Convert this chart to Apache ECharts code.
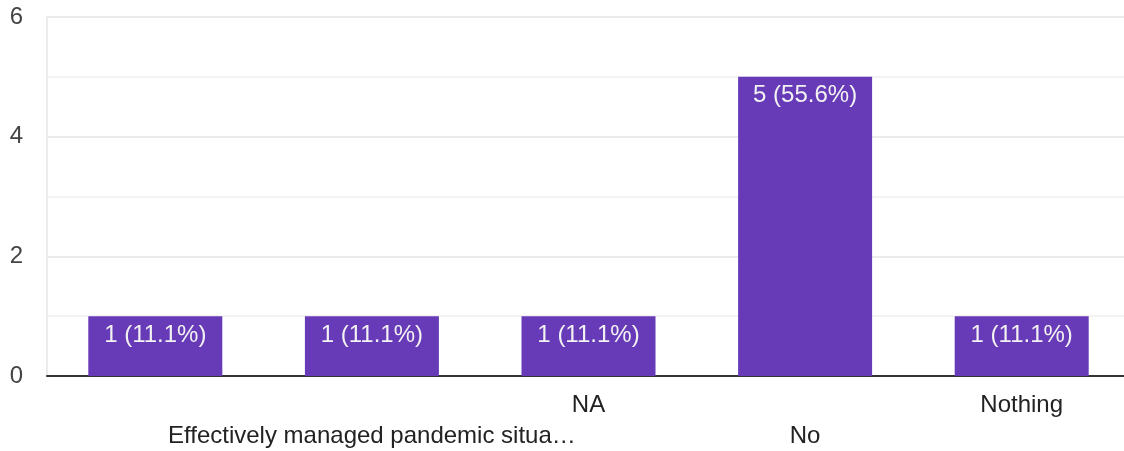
<!DOCTYPE html>
<html>
<head>
<meta charset="utf-8">
<script src="https://cdn.jsdelivr.net/npm/echarts@6/dist/echarts.min.js"></script>
<style>
html,body{margin:0;padding:0;background:#fff;overflow:hidden;}
#chart{width:1136px;height:451px;}
</style>
</head>
<body>
<div id="chart"></div>
<script>
var categories = ["", "Effectively managed pandemic situa\u2026", "NA", "No", "Nothing"];
var counts = [1, 1, 1, 5, 1];
var percents = ["11.1%", "11.1%", "11.1%", "55.6%", "11.1%"];
var yTicks = [0, 2, 4, 6];

var chart = echarts.init(document.getElementById('chart'));
var font = '"Liberation Sans", Arial, sans-serif';
chart.setOption({
  animation: false,
  grid: { left: 47, width: 1083, top: 17, height: 359, containLabel: false, outerBoundsMode: 'none' },
  xAxis: {
    type: 'category',
    data: categories,
    axisLine: { show: true, lineStyle: { color: '#333333', width: 2 } },
    axisTick: { show: false },
    axisLabel: {
      interval: 0,
      color: '#222222',
      fontFamily: font,
      fontSize: 24,
      lineHeight: 31,
      margin: 14,
      formatter: function (v, i) { return i % 2 === 1 ? '\n' + v : v; }
    },
    splitLine: { show: false }
  },
  yAxis: {
    type: 'value',
    min: yTicks[0],
    max: yTicks[yTicks.length - 1],
    interval: 2,
    axisLine: { show: true, lineStyle: { color: '#ebebeb', width: 2 } },
    axisTick: { show: false },
    axisLabel: { color: '#444444', fontFamily: font, fontSize: 24, margin: 24 },
    splitLine: { show: true, lineStyle: { color: '#ebebeb', width: 2 } },
    minorTick: { show: false, splitNumber: 2 },
    minorSplitLine: { show: true, lineStyle: { color: '#f3f3f3', width: 2 } }
  },
  series: [{
    type: 'bar',
    data: counts,
    barWidth: 134,
    itemStyle: { color: '#673ab7' },
    label: {
      show: true,
      position: 'insideTop',
      distance: 7,
      color: '#f2f2f2',
      fontFamily: font,
      fontSize: 24,
      formatter: function (p) { return p.value + ' (' + percents[p.dataIndex] + ')'; }
    }
  }]
});
</script>
</body>
</html>
